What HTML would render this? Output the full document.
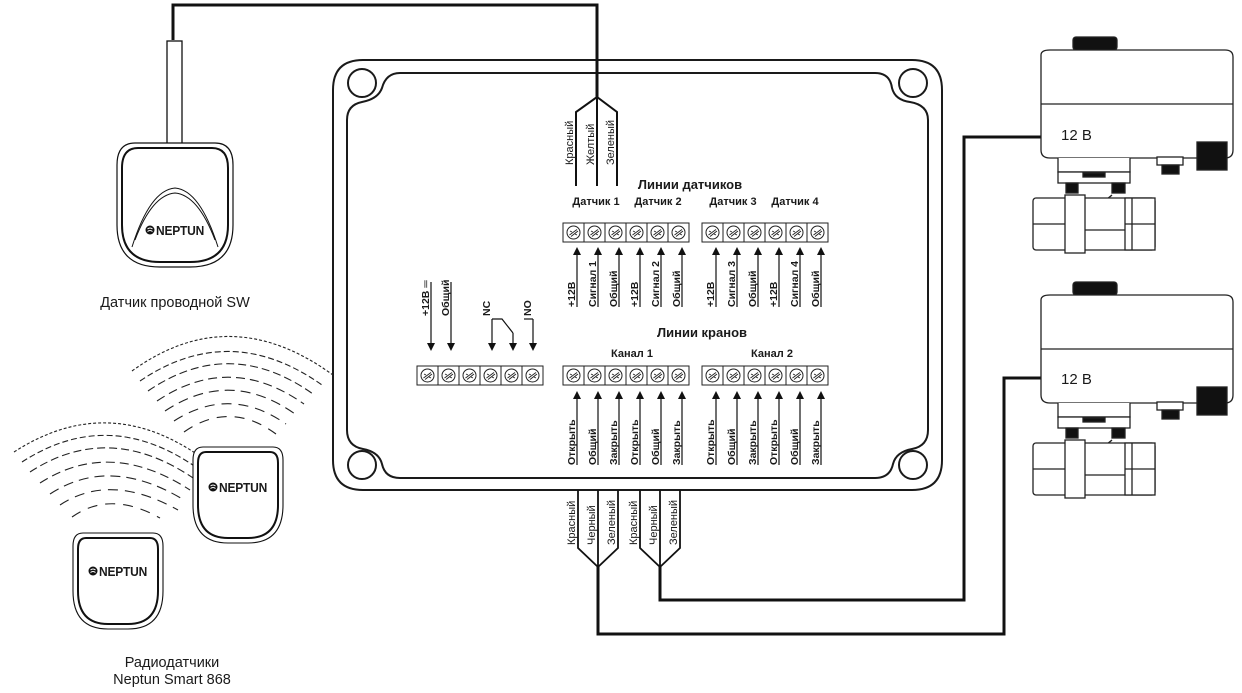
<!DOCTYPE html>
<html><head><meta charset="utf-8"><style>
html,body{margin:0;padding:0;background:#fff;}
svg{display:block;}
text{font-family:"Liberation Sans",sans-serif;fill:#1a1a1a;}
.b{font-weight:bold;}
</style></head><body>
<svg width="1242" height="693" viewBox="0 0 1242 693" xmlns="http://www.w3.org/2000/svg">
<defs>
<g id="cell"><rect x="0" y="0" width="21" height="19" fill="#fff" stroke="#222" stroke-width="1"/><circle cx="10.5" cy="9.5" r="6.5" fill="none" stroke="#222" stroke-width="1"/><path d="M6.5 12 L14 6.5 M8 13.5 L15 8 M7 8 l2 1 M12 11 l2 1" stroke="#222" stroke-width="0.9" fill="none"/></g>
<g id="blk"><use href="#cell" x="0"/><use href="#cell" x="21"/><use href="#cell" x="42"/><use href="#cell" x="63"/><use href="#cell" x="84"/><use href="#cell" x="105"/></g>
<path id="au" d="M-4 8 L0 0 L4 8Z" fill="#111"/>
<path id="ad" d="M-4 -8 L0 0 L4 -8Z" fill="#111"/>
<g id="logo"><circle cx="0" cy="0" r="4.5" fill="#111"/><path d="M-2.5 -1 Q0 -3 2.5 -1 M-2.5 1.5 Q0 -0.5 2.5 1.5" stroke="#fff" stroke-width="1" fill="none"/><text x="6" y="4.5" class="b" font-size="12" transform="scale(1,1.1)" style="font-family:'Liberation Sans Narrow','Liberation Sans',sans-serif" letter-spacing="-0.2">NEPTUN</text></g>
<g id="valve" stroke="#222" stroke-width="1.3" fill="#fff">
<rect x="1073" y="37" width="44" height="13" rx="3" fill="#111"/>
<path d="M1041 55 Q1041 50 1050 50 L1225 50 Q1233 50 1233 57 L1233 150 Q1233 158 1225 158 L1050 158 Q1041 158 1041 150Z"/>
<line x1="1041" y1="104" x2="1233" y2="104"/>
<path d="M1058 158 L1058 172 L1130 172 L1130 158"/>
<rect x="1058" y="172" width="72" height="11"/>
<rect x="1083" y="173" width="22" height="4" fill="#111"/>
<rect x="1066" y="183" width="12" height="10" fill="#111"/>
<rect x="1112" y="183" width="13" height="10" fill="#111"/>
<rect x="1157" y="157" width="26" height="8"/>
<rect x="1162" y="165" width="17" height="9" fill="#111"/>
<rect x="1197" y="142" width="30" height="28" fill="#111"/>
<path d="M1078 195 Q1096 210 1112 195"/>
<rect x="1033" y="198" width="122" height="52" rx="3"/>
<rect x="1065" y="195" width="20" height="58"/>
<line x1="1033" y1="224" x2="1065" y2="224"/>
<line x1="1085" y1="230" x2="1125" y2="230"/>
<rect x="1125" y="198" width="30" height="52"/>
<line x1="1125" y1="224" x2="1155" y2="224"/>
<line x1="1132" y1="198" x2="1132" y2="250"/>
</g>
</defs>

<!-- box -->
<g fill="none" stroke="#1a1a1a" stroke-width="2">
<path d="M363 60 L912 60 Q942 60 942 90 L942 460 Q942 490 912 490 L363 490 Q333 490 333 460 L333 90 Q333 60 363 60Z"/>
<path d="M400 73 L875 73 Q890 73 892 88 Q895 100 910 102 Q928 105 928 120 L928 430 Q928 446 912 449 Q896 452 893 464 Q890 478 875 478 L400 478 Q385 478 382 464 Q379 452 363 449 Q347 446 347 430 L347 120 Q347 105 362 102 Q378 99 382 88 Q386 73 400 73Z"/>
<circle cx="362" cy="83" r="14"/><circle cx="913" cy="83" r="14"/>
<circle cx="362" cy="465" r="14"/><circle cx="913" cy="465" r="14"/>
</g>

<!-- blocks -->
<use href="#blk" x="563" y="223"/>
<use href="#blk" x="702" y="223"/>
<use href="#blk" x="417" y="366"/>
<use href="#blk" x="563" y="366"/>
<use href="#blk" x="702" y="366"/>

<text x="690" y="189" text-anchor="middle" class="b" font-size="13">Линии датчиков</text>
<text x="596" y="205" text-anchor="middle" class="b" font-size="11">Датчик 1</text>
<text x="658" y="205" text-anchor="middle" class="b" font-size="11">Датчик 2</text>
<text x="733" y="205" text-anchor="middle" class="b" font-size="11">Датчик 3</text>
<text x="795" y="205" text-anchor="middle" class="b" font-size="11">Датчик 4</text>
<text x="702" y="337" text-anchor="middle" class="b" font-size="13">Линии кранов</text>
<text x="632" y="357" text-anchor="middle" class="b" font-size="11">Канал 1</text>
<text x="772" y="357" text-anchor="middle" class="b" font-size="11">Канал 2</text>

<!-- sensor arrows -->
<g stroke="#111" stroke-width="1.2">
<line x1="577" y1="307" x2="577" y2="252"/><line x1="598" y1="307" x2="598" y2="252"/><line x1="619" y1="307" x2="619" y2="252"/>
<line x1="640" y1="307" x2="640" y2="252"/><line x1="661" y1="307" x2="661" y2="252"/><line x1="682" y1="307" x2="682" y2="252"/>
<line x1="716" y1="307" x2="716" y2="252"/><line x1="737" y1="307" x2="737" y2="252"/><line x1="758" y1="307" x2="758" y2="252"/>
<line x1="779" y1="307" x2="779" y2="252"/><line x1="800" y1="307" x2="800" y2="252"/><line x1="821" y1="307" x2="821" y2="252"/>
</g>
<use href="#au" x="577" y="247"/><use href="#au" x="598" y="247"/><use href="#au" x="619" y="247"/>
<use href="#au" x="640" y="247"/><use href="#au" x="661" y="247"/><use href="#au" x="682" y="247"/>
<use href="#au" x="716" y="247"/><use href="#au" x="737" y="247"/><use href="#au" x="758" y="247"/>
<use href="#au" x="779" y="247"/><use href="#au" x="800" y="247"/><use href="#au" x="821" y="247"/>
<g class="b" font-size="10.5">
<text transform="translate(575,307) rotate(-90)">+12В</text>
<text transform="translate(596,307) rotate(-90)">Сигнал 1</text>
<text transform="translate(617,307) rotate(-90)">Общий</text>
<text transform="translate(638,307) rotate(-90)">+12В</text>
<text transform="translate(659,307) rotate(-90)">Сигнал 2</text>
<text transform="translate(680,307) rotate(-90)">Общий</text>
<text transform="translate(714,307) rotate(-90)">+12В</text>
<text transform="translate(735,307) rotate(-90)">Сигнал 3</text>
<text transform="translate(756,307) rotate(-90)">Общий</text>
<text transform="translate(777,307) rotate(-90)">+12В</text>
<text transform="translate(798,307) rotate(-90)">Сигнал 4</text>
<text transform="translate(819,307) rotate(-90)">Общий</text>
</g>

<!-- valve arrows -->
<g stroke="#111" stroke-width="1.2">
<line x1="577" y1="465" x2="577" y2="396"/><line x1="598" y1="465" x2="598" y2="396"/><line x1="619" y1="465" x2="619" y2="396"/>
<line x1="640" y1="465" x2="640" y2="396"/><line x1="661" y1="465" x2="661" y2="396"/><line x1="682" y1="465" x2="682" y2="396"/>
<line x1="716" y1="465" x2="716" y2="396"/><line x1="737" y1="465" x2="737" y2="396"/><line x1="758" y1="465" x2="758" y2="396"/>
<line x1="779" y1="465" x2="779" y2="396"/><line x1="800" y1="465" x2="800" y2="396"/><line x1="821" y1="465" x2="821" y2="396"/>
</g>
<use href="#au" x="577" y="391"/><use href="#au" x="598" y="391"/><use href="#au" x="619" y="391"/>
<use href="#au" x="640" y="391"/><use href="#au" x="661" y="391"/><use href="#au" x="682" y="391"/>
<use href="#au" x="716" y="391"/><use href="#au" x="737" y="391"/><use href="#au" x="758" y="391"/>
<use href="#au" x="779" y="391"/><use href="#au" x="800" y="391"/><use href="#au" x="821" y="391"/>
<g class="b" font-size="10.5">
<text transform="translate(575,465) rotate(-90)">Открыть</text>
<text transform="translate(596,465) rotate(-90)">Общий</text>
<text transform="translate(617,465) rotate(-90)">Закрыть</text>
<text transform="translate(638,465) rotate(-90)">Открыть</text>
<text transform="translate(659,465) rotate(-90)">Общий</text>
<text transform="translate(680,465) rotate(-90)">Закрыть</text>
<text transform="translate(714,465) rotate(-90)">Открыть</text>
<text transform="translate(735,465) rotate(-90)">Общий</text>
<text transform="translate(756,465) rotate(-90)">Закрыть</text>
<text transform="translate(777,465) rotate(-90)">Открыть</text>
<text transform="translate(798,465) rotate(-90)">Общий</text>
<text transform="translate(819,465) rotate(-90)">Закрыть</text>
</g>

<!-- left block arrows -->
<g stroke="#111" stroke-width="1.2" fill="none">
<line x1="431" y1="282" x2="431" y2="345"/>
<line x1="451" y1="282" x2="451" y2="345"/>
<line x1="492" y1="319" x2="492" y2="345"/>
<line x1="513" y1="333" x2="513" y2="345"/>
<line x1="533" y1="319" x2="533" y2="345"/>
<path d="M492 319 L502 319 L513 333"/>
<path d="M524 319 L533 319"/>
</g>
<use href="#ad" x="431" y="351"/><use href="#ad" x="451" y="351"/><use href="#ad" x="492" y="351"/><use href="#ad" x="513" y="351"/><use href="#ad" x="533" y="351"/>
<g class="b" font-size="10.5">
<text transform="translate(429,316) rotate(-90)">+12В ═</text>
<text transform="translate(449,316) rotate(-90)">Общий</text>
<text transform="translate(490,316) rotate(-90)">NC</text>
<text transform="translate(531,316) rotate(-90)">NO</text>
</g>

<!-- top cable -->
<g fill="none" stroke="#111">
<path d="M173 40 L173 5 L597 5 L597 97" stroke-width="3"/>
<path d="M576 186 L576 112 L597 97 L617 112 L617 186 M597 97 L597 186" stroke-width="2"/>
</g>
<g font-size="11">
<text transform="translate(573,165) rotate(-90)">Красный</text>
<text transform="translate(594,165) rotate(-90)">Желтый</text>
<text transform="translate(614,165) rotate(-90)">Зеленый</text>
</g>

<!-- bottom cables -->
<g fill="none" stroke="#111">
<path d="M578 490 L578 548 L598 567 L618 548 L618 490 M598 490 L598 567" stroke-width="1.8"/>
<path d="M640 490 L640 548 L660 567 L680 548 L680 490 M660 490 L660 567" stroke-width="1.8"/>
<path d="M598 567 L598 634 L1004 634 L1004 378 L1041 378" stroke-width="3"/>
<path d="M660 567 L660 600 L964 600 L964 137 L1041 137" stroke-width="3"/>
</g>
<g font-size="11">
<text transform="translate(575,545) rotate(-90)">Красный</text>
<text transform="translate(595,545) rotate(-90)">Черный</text>
<text transform="translate(615,545) rotate(-90)">Зеленый</text>
<text transform="translate(637,545) rotate(-90)">Красный</text>
<text transform="translate(657,545) rotate(-90)">Черный</text>
<text transform="translate(677,545) rotate(-90)">Зеленый</text>
</g>

<!-- valves -->
<use href="#valve"/>
<use href="#valve" y="245"/>
<text x="1061" y="140" font-size="15">12 В</text>
<text x="1061" y="384" font-size="15">12 В</text>

<!-- wired sensor -->
<rect x="167" y="41" width="15" height="103" fill="#fff" stroke="#111" stroke-width="1.3"/>
<path d="M135 143 L215 143 Q233 143 233 165 L233 225 Q233 267 190 267 L160 267 Q117 267 117 225 L117 165 Q117 143 135 143Z" fill="#fff" stroke="#111" stroke-width="1.2"/>
<path d="M138 148 L212 148 Q228 148 228 168 L228 225 Q228 262 190 262 L160 262 Q122 262 122 225 L122 168 Q122 148 138 148Z" fill="none" stroke="#111" stroke-width="2"/>
<path d="M132 247 Q150 190 175 188 Q200 190 218 247" fill="none" stroke="#111" stroke-width="1"/>
<path d="M135 240 Q152 195 175 193 Q198 195 215 240" fill="none" stroke="#111" stroke-width="1"/>
<use href="#logo" x="150" y="230"/>
<text x="175" y="307" text-anchor="middle" font-size="14.5">Датчик проводной SW</text>

<!-- radio waves -->
<g fill="none" stroke="#222" stroke-width="1.1">
<path d="M132 371 Q230 300 333 375" stroke-dasharray="3 2"/>
<path d="M140 381 Q230 320 322 385" stroke-dasharray="6 3"/>
<path d="M148 391 Q230 335 313 394" stroke-dasharray="8 4"/>
<path d="M157 401 Q230 352 304 404" stroke-dasharray="9 5"/>
<path d="M165 411 Q230 368 295 414" stroke-dasharray="10 6"/>
<path d="M174 421 Q230 385 286 424" stroke-dasharray="10 7"/>
<path d="M184 432 Q230 400 276 434" stroke-dasharray="10 8"/>
<path d="M14 452 Q110 390 205 460" stroke-dasharray="3 2"/>
<path d="M22 462 Q110 405 200 470" stroke-dasharray="6 3"/>
<path d="M30 472 Q110 420 196 480" stroke-dasharray="8 4"/>
<path d="M40 483 Q110 438 190 490" stroke-dasharray="9 5"/>
<path d="M50 494 Q110 455 184 500" stroke-dasharray="10 6"/>
<path d="M60 505 Q110 472 178 510" stroke-dasharray="10 7"/>
<path d="M72 517 Q110 490 160 518" stroke-dasharray="10 8"/>
</g>

<!-- radio sensors -->
<g id="rs">
<path d="M203 447 L273 447 Q283 447 283 460 L283 505 Q283 543 248 543 L228 543 Q193 543 193 505 L193 460 Q193 447 203 447Z" fill="#fff" stroke="#111" stroke-width="1.1"/>
<path d="M206 452 L270 452 Q278 452 278 463 L278 505 Q278 538 248 538 L228 538 Q198 538 198 505 L198 463 Q198 452 206 452Z" fill="none" stroke="#111" stroke-width="2"/>
</g>
<use href="#logo" x="213" y="487"/>
<use href="#rs" x="-120" y="86"/>
<use href="#logo" x="93" y="571"/>
<text x="172" y="667" text-anchor="middle" font-size="14.5">Радиодатчики</text>
<text x="172" y="684" text-anchor="middle" font-size="14.5">Neptun Smart 868</text>
</svg>
</body></html>
